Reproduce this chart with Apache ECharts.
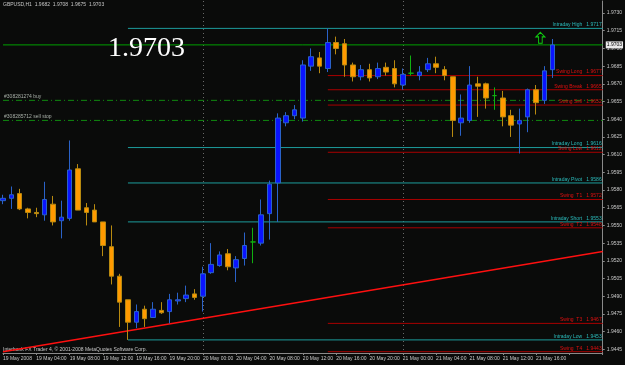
<!DOCTYPE html>
<html>
<head>
<meta charset="utf-8">
<script src="https://cdn.jsdelivr.net/npm/echarts@6/dist/echarts.min.js"></script>
<style>
  html, body { margin: 0; padding: 0; background: #0a0b0a; }
  #main { width: 625px; height: 365px; }
</style>
</head>
<body>
<div id="main"></div>
<script>
// GBPUSD H1, 19 May 2008 00:00 .. 21 May 18:00
var opens = [1.9571, 1.9573, 1.9577, 1.9564, 1.9561, 1.9559, 1.9568, 1.9554, 1.9556, 1.9598,
    1.9565, 1.9563, 1.9553, 1.9532, 1.9507, 1.9487, 1.9468, 1.9479, 1.9472, 1.9478,
    1.9477, 1.9486, 1.9488, 1.9492, 1.9490, 1.9510, 1.9516, 1.9526, 1.9514, 1.9522,
    1.9536, 1.9535, 1.9560, 1.9586, 1.9637, 1.9643, 1.9641, 1.9685, 1.9692, 1.9683,
    1.9705, 1.9704, 1.9686, 1.9676, 1.9682, 1.9676, 1.9684, 1.9683, 1.9669, 1.9679,
    1.9677, 1.9682, 1.9687, 1.9682, 1.9676, 1.9637, 1.9639, 1.9670, 1.9670, 1.9660,
    1.9658, 1.9643, 1.9636, 1.9642, 1.9665, 1.9656, 1.9682];
var highs = [1.9576, 1.9583, 1.9581, 1.9565, 1.9565, 1.9587, 1.9575, 1.9571, 1.9622, 1.9602,
    1.9569, 1.9568, 1.9553, 1.9550, 1.9509, 1.9487, 1.9483, 1.9482, 1.9485, 1.9485,
    1.9492, 1.9493, 1.9499, 1.9496, 1.9515, 1.9535, 1.9528, 1.9530, 1.9524, 1.9544,
    1.9548, 1.9572, 1.9588, 1.9645, 1.9646, 1.9652, 1.9690, 1.9700, 1.9697, 1.9717,
    1.9710, 1.9708, 1.9688, 1.9686, 1.9687, 1.9688, 1.9688, 1.9690, 1.9683, 1.9694,
    1.9685, 1.9692, 1.9693, 1.9685, 1.9676, 1.9661, 1.9685, 1.9676, 1.9671, 1.9667,
    1.9664, 1.9648, 1.9649, 1.9666, 1.9669, 1.9685, 1.9708];
var lows = [1.9568, 1.9564, 1.9563, 1.9556, 1.9557, 1.9554, 1.9550, 1.9539, 1.9554, 1.9563,
    1.9550, 1.9553, 1.9524, 1.9500, 1.9464, 1.9453, 1.9463, 1.9464, 1.9472, 1.9475,
    1.9467, 1.9483, 1.9485, 1.9487, 1.9477, 1.9509, 1.9515, 1.9512, 1.9502, 1.9516,
    1.9518, 1.9533, 1.9538, 1.9553, 1.9634, 1.9640, 1.9638, 1.9681, 1.9679, 1.9680,
    1.9695, 1.9676, 1.9672, 1.9673, 1.9672, 1.9674, 1.9677, 1.9667, 1.9665, 1.9677,
    1.9673, 1.9680, 1.9679, 1.9673, 1.9625, 1.9626, 1.9637, 1.9642, 1.9649, 1.9648,
    1.9634, 1.9625, 1.9611, 1.9629, 1.9644, 1.9653, 1.9675];
var closes = [1.9573, 1.9576, 1.9564, 1.9561, 1.9560, 1.9572, 1.9553, 1.9557, 1.9597, 1.9563,
    1.9561, 1.9553, 1.9533, 1.9507, 1.9485, 1.9468, 1.9477, 1.9471, 1.9479, 1.9476,
    1.9487, 1.9487, 1.9491, 1.9489, 1.9509, 1.9517, 1.9525, 1.9515, 1.9521, 1.9533,
    1.9536, 1.9559, 1.9585, 1.9641, 1.9643, 1.9648, 1.9686, 1.9693, 1.9685, 1.9705,
    1.9700, 1.9686, 1.9676, 1.9682, 1.9675, 1.9683, 1.9680, 1.9670, 1.9678, 1.9679,
    1.9680, 1.9687, 1.9684, 1.9677, 1.9639, 1.9641, 1.9669, 1.9668, 1.9658, 1.9660,
    1.9642, 1.9635, 1.9639, 1.9665, 1.9654, 1.9681, 1.9703];

var tickLabels = ['19 May 2008', '19 May 04:00', '19 May 08:00', '19 May 12:00', '19 May 16:00',
    '19 May 20:00', '20 May 00:00', '20 May 04:00', '20 May 08:00', '20 May 12:00',
    '20 May 16:00', '20 May 20:00', '21 May 00:00', '21 May 04:00', '21 May 08:00',
    '21 May 12:00', '21 May 16:00'];
var priceTicks = [1.9445, 1.9460, 1.9475, 1.9490, 1.9505, 1.9520, 1.9535, 1.9550, 1.9565,
    1.9580, 1.9595, 1.9610, 1.9625, 1.9640, 1.9655, 1.9670, 1.9685, 1.9700, 1.9715, 1.9730];

// pivot levels
var intradayNames = ['Intraday High', 'Intraday Long', 'Intraday Pivot', 'Intraday Short', 'Intraday Low'];
var intradayValues = [1.9717, 1.9616, 1.9586, 1.9553, 1.9453];
var swingNames = ['Swing Long', 'Swing Break', 'Swing Sell', 'Swing Low', 'Swing  T1', 'Swing  T2', 'Swing  T3', 'Swing  T4'];
var swingValues = [1.9677, 1.9665, 1.9652, 1.9612, 1.9572, 1.9548, 1.9467, 1.9443];
var orderNames = ['#308281274 buy', '#308285712 sell stop'];
var orderValues = [1.9656, 1.9639];
var trendLine = [1.9443, 1.9528];   // at bar 0 and at bar 72

var nSlots = 73;          // bars up to 22 May 00:00
var intradayStart = 15, swingStart = 39;
var FONT = 'Liberation Sans';

var cats = [];
for (var i = 0; i < nSlots; i++) cats.push(i);
var candles = [];
for (var i = 0; i < opens.length; i++) candles.push([opens[i], closes[i], lows[i], highs[i]]);
var last = closes[closes.length - 1];
var end = nSlots - 1;

// one line series per level, label hung on an invisible markPoint
function level(x0, x1, v, color, lineType, width, text, textColor, side) {
    var s = {
        type: 'line', silent: true, animation: false, symbol: 'none', z: 3,
        data: [[x0, v], [x1, v]],
        itemStyle: { color: color },
        lineStyle: { color: color, width: width, type: lineType, opacity: 1 },
        emphasis: { disabled: true }
    };
    if (text) {
        s.markPoint = {
            silent: true, animation: false,
            symbol: 'circle', symbolSize: 0.1, itemStyle: { color: 'rgba(0,0,0,0)' },
            data: [{ coord: side === 'left' ? [x0, v] : [x1, v] }],
            label: {
                show: true, position: side === 'left' ? 'right' : 'left', distance: 1, offset: [0, -3.5],
                color: textColor, fontSize: 5, fontFamily: FONT, formatter: text
            }
        };
    }
    return s;
}

var series = [{
    type: 'candlestick',
    data: candles,
    barWidth: 5, z: 5,
    itemStyle: {
        color: '#0a14ff', color0: '#ff9a00',
        borderColor: '#2a62c8', borderColor0: '#b88a10',
        borderColorDoji: '#10b010', borderWidth: 1
    },
    markPoint: {
        silent: true,
        data: [{
            coord: [65, 1.9709],
            symbol: 'path://M5,0 L10,5 L7,5 L7,12 L3,12 L3,5 L0,5 Z',
            symbolSize: [9, 11], symbolOffset: [-4, 0],
            itemStyle: { color: 'rgba(0,0,0,0)', borderColor: '#10d010', borderWidth: 1 },
            label: { show: false }
        }]
    }
}];

intradayNames.forEach(function (n, i) {
    series.push(level(intradayStart, end, intradayValues[i], '#1d9c9c', 'solid', 1,
        n + '   ' + intradayValues[i].toFixed(4), '#2bbcbc', 'right'));
});
swingNames.forEach(function (n, i) {
    series.push(level(swingStart, end, swingValues[i], '#a80000', 'solid', 1,
        n + '   ' + swingValues[i].toFixed(4), '#e01010', 'right'));
});
orderNames.forEach(function (n, i) {
    series.push(level(0, end, orderValues[i], '#108a10', [6, 3, 1, 3], 1, n, '#a8b0a8', 'left'));
});
series.push({
    type: 'line', silent: true, animation: false, symbol: 'none', z: 3,
    data: [[0, trendLine[0]], [end, trendLine[1]]],
    lineStyle: { color: '#ff1010', width: 1.5 }
});
series.push({
    type: 'line', silent: true, animation: false, symbol: 'none', z: 4,
    data: [[0, last], [end, last]],
    lineStyle: { color: '#00a000', width: 1 },
    markPoint: {
        silent: true, animation: false,
        symbol: 'circle', symbolSize: 0.1, itemStyle: { color: 'rgba(0,0,0,0)' },
        data: [{ coord: [end, last] }],
        label: {
            show: true, position: 'right', distance: 3, color: '#000', backgroundColor: '#e8e8e8',
            padding: [1, 1], fontSize: 5, fontFamily: FONT, formatter: last.toFixed(4)
        }
    }
});

var option = {
    backgroundColor: '#0a0b0a',
    animation: false,
    title: {
        text: last.toFixed(4),
        left: 103, top: 30,
        textStyle: { color: '#ffffff', fontSize: 28, fontWeight: 'normal', fontFamily: 'Liberation Serif' }
    },
    graphic: [
        { type: 'text', left: 3, top: 2, style: { text: 'GBPUSD,H1  1.9682  1.9708  1.9675  1.9703', fill: '#c8c8c8', font: '5px ' + FONT } },
        { type: 'text', left: 3, top: 347, style: { text: 'Interbank FX Trader 4, © 2001-2008 MetaQuotes Software Corp.', fill: '#c8c8c8', font: '5px ' + FONT } }
    ],
    grid: { left: 2, right: 22, top: 1, bottom: 12 },
    xAxis: {
        type: 'category',
        data: cats,
        boundaryGap: false,
        axisLine: { lineStyle: { color: '#8a8a8a' } },
        axisTick: { show: true, interval: 3, length: 2, lineStyle: { color: '#8a8a8a' } },
        axisLabel: {
            interval: 3, margin: 3, color: '#c8c8c8', fontSize: 5, fontFamily: FONT, align: 'left',
            formatter: function (v, idx) { return tickLabels[idx / 4] || ''; }
        },
        splitLine: {
            show: true,
            interval: function (idx) { return idx > 0 && idx % 24 === 0; },
            lineStyle: { color: '#6a6a6a', type: [1, 3] }
        }
    },
    yAxis: {
        type: 'value',
        position: 'right',
        min: 1.94419, max: 1.97402,
        axisLine: { show: true, lineStyle: { color: '#8a8a8a' } },
        axisTick: { show: true, length: 2, customValues: priceTicks, lineStyle: { color: '#8a8a8a' } },
        axisLabel: { color: '#c8c8c8', fontSize: 5, fontFamily: FONT, margin: 4, customValues: priceTicks,
                     formatter: function (v) { return v.toFixed(4); } },
        splitLine: { show: false }
    },
    series: series
};

var chart = echarts.init(document.getElementById('main'));
chart.setOption(option);
</script>
</body>
</html>
